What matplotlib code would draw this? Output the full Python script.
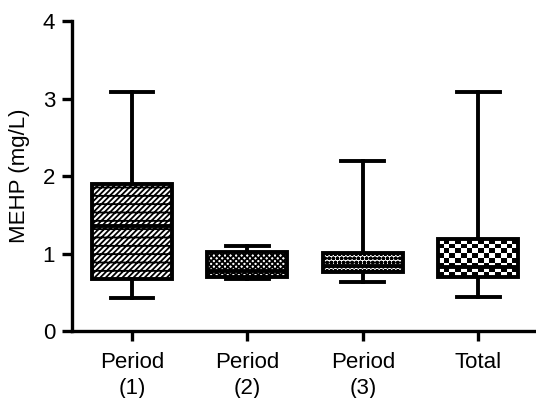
import matplotlib
matplotlib.use("Agg")
import matplotlib.pyplot as plt
import numpy as np

plt.rcParams['font.family'] = ['Liberation Sans', 'DejaVu Sans']
plt.rcParams['hatch.linewidth'] = 1.3

categories = ["Period\n(1)", "Period\n(2)", "Period\n(3)", "Total"]
whisker_low = [0.43, 0.67, 0.63, 0.44]
q1 = [0.67, 0.70, 0.76, 0.70]
median = [1.35, 0.77, 0.84, 0.83]
q3 = [1.90, 1.02, 1.01, 1.19]
whisker_high = [3.09, 1.10, 2.19, 3.09]
hatches = ['//////--', 'xxxxxx', 'oooo', None]

stats = []
for i, lab in enumerate(categories):
    stats.append(dict(label=lab, whislo=whisker_low[i], q1=q1[i], med=median[i],
                      q3=q3[i], whishi=whisker_high[i], fliers=[]))

fig = plt.figure(figsize=(5.36, 3.98), dpi=100)
ax = fig.add_axes([0.134, 0.168, 0.866, 0.779])

lw = 2.8
positions = [1, 2, 3, 4]
width = 0.69
bp = ax.bxp(stats, positions=positions, widths=width, capwidths=0.37,
            patch_artist=True, showfliers=False,
            boxprops=dict(linewidth=lw, edgecolor='black', facecolor='white'),
            whiskerprops=dict(linewidth=lw, color='black'),
            capprops=dict(linewidth=lw, color='black'),
            medianprops=dict(linewidth=lw, color='black'))
for patch, h in zip(bp['boxes'], hatches):
    if h:
        patch.set_hatch(h)

# checkerboard fill for the "Total" box
i = 3
checker = np.indices((8, 14)).sum(axis=0) % 2
im = ax.imshow(checker, cmap='gray_r', interpolation='nearest', aspect='auto',
               extent=(positions[i] - width / 2, positions[i] + width / 2, q1[i], q3[i]),
               zorder=bp['boxes'][i].get_zorder() + 0.1)
im.set_clip_path(bp['boxes'][i])
bp['boxes'][i].set_zorder(im.get_zorder() + 0.1)
bp['boxes'][i].set_facecolor('none')
bp['medians'][i].set_zorder(im.get_zorder() + 0.2)

ax.set_xlim(0.48, 4.5)
ax.set_ylim(0, 4)
ax.set_yticks([0, 1, 2, 3, 4])
ax.set_yticklabels(['0', '1', '2', '3', '4'])
ax.spines['top'].set_visible(False)
ax.spines['right'].set_visible(False)
ax.spines['left'].set_linewidth(2.4)
ax.spines['bottom'].set_linewidth(2.4)
ax.tick_params(axis='both', width=2.4, length=7, labelsize=16, colors='black')
ax.tick_params(axis='x', pad=8)
ax.tick_params(axis='y', pad=5)
for t in ax.get_xticklabels():
    t.set_linespacing(1.3)
ax.set_ylabel('MEHP (mg/L)', fontsize=16, labelpad=9)

fig.savefig('out.png', dpi=100)
